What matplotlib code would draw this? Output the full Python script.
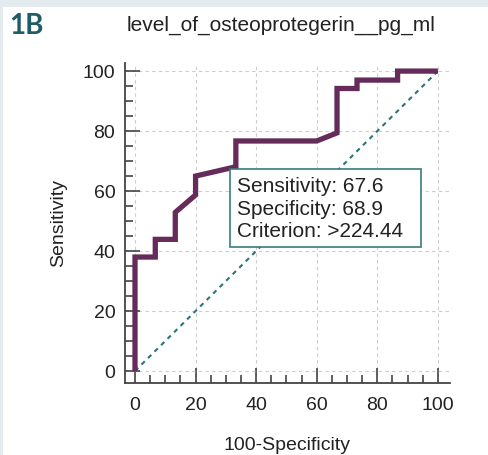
import matplotlib.pyplot as plt
import numpy as np
from matplotlib.patches import Rectangle
from matplotlib.ticker import MultipleLocator


# ROC curve points (100-Specificity, Sensitivity)
fpr = [0, 0, 6.7, 6.7, 13.3, 13.3, 20.0, 20.0, 33.3, 33.3, 60.0, 66.7, 66.7, 73.3, 73.3, 86.7, 86.7, 100]
tpr = [0, 38.0, 38.0, 43.9, 43.9, 52.9, 58.7, 65.0, 68.1, 76.7, 76.7, 79.4, 94.2, 94.2, 97.0, 97.0, 100, 100]

diag = [0, 100]
ticks = [0, 20, 40, 60, 80, 100]

title = "level_of_osteoprotegerin__pg_ml"
panel_label = "1B"
box_lines = ["Sensitivity: 67.6", "Specificity: 68.9", "Criterion: >224.44"]

FONT = "Liberation Sans"
ROC_COLOR = "#652b5b"
DIAG_COLOR = "#2b7479"


def main():
    plt.rcParams["font.family"] = [FONT, "DejaVu Sans"]

    fig = plt.figure(figsize=(4.89, 4.55), dpi=100)
    fig.patch.set_facecolor("#e3ebef")
    fig.patches.append(
        Rectangle((3 / 489, 0), 1, 448 / 455, transform=fig.transFigure,
                  facecolor="white", edgecolor="none", zorder=-5)
    )

    ax = fig.add_axes([125 / 489, 1 - 383 / 455, 325 / 489, 320 / 455])
    ax.set_facecolor("none")

    ax.plot(diag, diag, color=DIAG_COLOR, lw=1.5, ls=(0, (2.2, 2.2)), zorder=2)
    ax.plot(fpr, tpr, color=ROC_COLOR, lw=3.8, solid_joinstyle="miter",
            solid_capstyle="butt", zorder=3)

    ax.set_xlim(-3.3, 104)
    ax.set_ylim(-4, 102.7)
    ax.set_xticks(ticks)
    ax.set_yticks(ticks)
    ax.xaxis.set_minor_locator(MultipleLocator(5))
    ax.yaxis.set_minor_locator(MultipleLocator(5))
    ax.tick_params(which="major", direction="in", length=11, width=1.2,
                   color="#444444", labelsize=14, labelcolor="#222222", pad=7)
    ax.tick_params(axis="x", which="major", pad=10)
    ax.tick_params(which="minor", direction="in", length=6, width=1.2,
                   color="#444444")

    ax.grid(True, which="major", color="#cccccc", ls=(0, (3, 3)), lw=0.8)

    for side in ["top", "right"]:
        ax.spines[side].set_visible(False)
    for side in ["left", "bottom"]:
        ax.spines[side].set_color("#444444")
        ax.spines[side].set_linewidth(1.3)

    ax.set_xlabel("100-Specificity", fontsize=14, color="#222222", labelpad=17)
    ax.set_ylabel("Sensitivity", fontsize=14, color="#222222", labelpad=11)

    # criterion box: frame and text drawn separately (extra room on the right)
    ax.add_patch(Rectangle((31.35, 41.3), 63.0, 26.0, facecolor="white",
                           edgecolor="#3b7b80", lw=1.2, zorder=4))
    ax.text(33.6, 54.0, "\n".join(box_lines), fontsize=15,
            color="#222222", ha="left", va="center", linespacing=1.22, zorder=5)

    fig.text(281 / 489, 1 - 25 / 455, title, fontsize=15, color="#222222",
             ha="center", va="center")
    fig.text(9 / 489, 1 - 26 / 455, panel_label, fontsize=20, fontweight="bold",
             color="#1e5d66", ha="left", va="center", family=["Lato", "DejaVu Sans"])

    fig.savefig("out.png", dpi=100)


if __name__ == "__main__":
    main()
